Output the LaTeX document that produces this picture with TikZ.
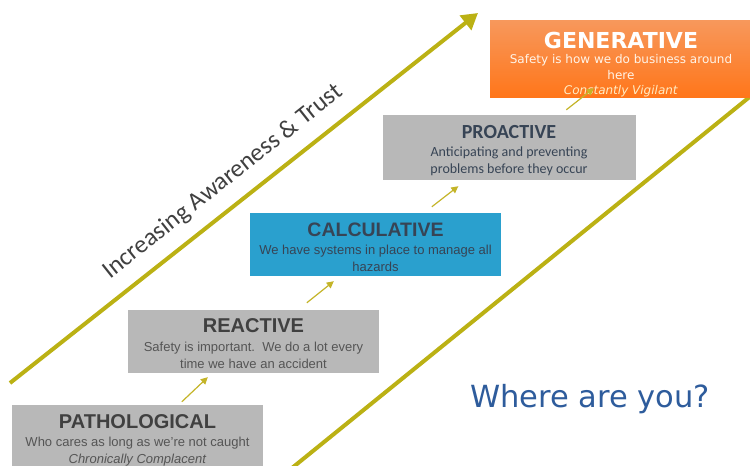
\documentclass[tikz,border=0pt]{standalone}
\usepackage{fontspec}
\setmainfont{Liberation Sans}
\newfontfamily\calibrifont{Carlito}
\newfontfamily\verdanafont{DejaVu Sans}
\usetikzlibrary{arrows.meta,positioning}
\definecolor{trend}{RGB}{187,177,20}
\definecolor{steparrow}{RGB}{196,180,40}
\definecolor{boxgray}{RGB}{184,184,184}
\definecolor{boxblue}{RGB}{42,160,206}
\definecolor{orangetop}{RGB}{247,152,92}
\definecolor{orangebot}{RGB}{255,118,26}
\definecolor{darktext}{RGB}{64,64,64}
\definecolor{bodytext}{RGB}{85,85,85}
\definecolor{slatetext}{RGB}{55,68,85}
\definecolor{bluetext}{RGB}{46,92,156}
\definecolor{paletext}{RGB}{255,244,232}
\definecolor{vigilant}{RGB}{255,236,196}

\begin{document}
\begin{tikzpicture}[x=1pt,y=-1pt,
    levelbox/.style={minimum width=251pt,inner sep=0pt,fill=boxgray},
    leveltext/.style={inner sep=0pt,align=center,text=bodytext,font=\fontsize{13}{17}\selectfont},
    trendline/.style={draw=trend,line width=4pt},
    stepup/.style={draw=steparrow,line width=1.2pt,-{Triangle[length=7pt,width=7pt]}}]
    \useasboundingbox (0,0) rectangle (750,466);
    \clip (0,0) rectangle (750,466);
    % the two long lines
    \coordinate (t1s) at (10,383);
    \coordinate (t1e) at (478,13);
    \coordinate (t2s) at (292,468);
    \coordinate (t2e) at (752,95);
    \draw[trendline,-{Triangle[length=16pt,width=18pt]}] (t1s) -- (t1e);
    \draw[trendline] (t2s) -- (t2e);
    % boxes
    \node[levelbox,minimum height=66pt] (patho) at (137.5,438) {};
    \node[levelbox,minimum height=63pt] (react) at (253.5,341.5) {};
    \node[levelbox,minimum height=63pt,fill=boxblue] (calc) at (375.5,244.5) {};
    \node[levelbox,minimum width=253pt,minimum height=65pt] (proact) at (509,147.5) {};
    \node[minimum width=262pt,minimum height=77pt,inner sep=0pt,top color=orangetop,bottom color=orangebot] (gener) at (621,58.5) {};
    % box texts
    \node[leveltext,below=9.5pt of patho.north] (pathotxt) {{\fontsize{20}{20}\selectfont\bfseries\color{darktext}PATHOLOGICAL}\\[1.5pt]Who cares as long as we’re not caught\\\textit{Chronically Complacent}};
    \node[leveltext,below=8.5pt of react.north] (reacttxt) {{\fontsize{20}{20}\selectfont\bfseries\color{darktext}REACTIVE}\\[2.5pt]Safety is important.\ \ We do a lot every\\time we have an accident};
    \node[leveltext,below=10pt of calc.north,text=slatetext] (calctxt) {{\fontsize{19.5}{19.5}\selectfont\bfseries CALCULATIVE}\\[0.7pt]We have systems in place to manage all\\hazards};
    \node[leveltext,below=10pt of proact.north,text=slatetext,font=\calibrifont\fontsize{14}{17}\selectfont] (proacttxt) {{\fontsize{20}{20}\selectfont\bfseries PROACTIVE}\\[1pt]Anticipating and preventing\\problems before they occur};
    \node[leveltext,below=12pt of gener.north,text=paletext,font=\verdanafont\fontsize{12}{15.5}\selectfont] (genertxt) {{\fontsize{22}{22}\selectfont\bfseries\color{white}GENERATIVE}\\[0pt]Safety is how we do business around\\here\\{\color{vigilant}\textit{Constantly Vigilant}}};
    % steps up
    \draw[stepup] ([xshift=170pt,yshift=3pt]patho.north west) -- ([xshift=80pt,yshift=-4pt]react.south west);
    \draw[stepup] ([xshift=179pt,yshift=7pt]react.north west) -- ([xshift=84pt,yshift=-5pt]calc.south west);
    \draw[stepup] ([xshift=182pt,yshift=6pt]calc.north west) -- ([xshift=76pt,yshift=-6pt]proact.south west);
    \draw[stepup] ([xshift=184pt,yshift=5pt]proact.north west) -- ([xshift=104pt,yshift=9pt]gener.south west);
    % labels
    \node[rotate=38.4,text=darktext,font=\calibrifont\fontsize{25}{25}\selectfont] (trust) at (223,182) {Increasing Awareness \& Trust};
    \node[text=bluetext,font=\verdanafont\fontsize{30.5}{31}\selectfont] (where) at (590,399) {Where are you?};
\end{tikzpicture}
\end{document}
